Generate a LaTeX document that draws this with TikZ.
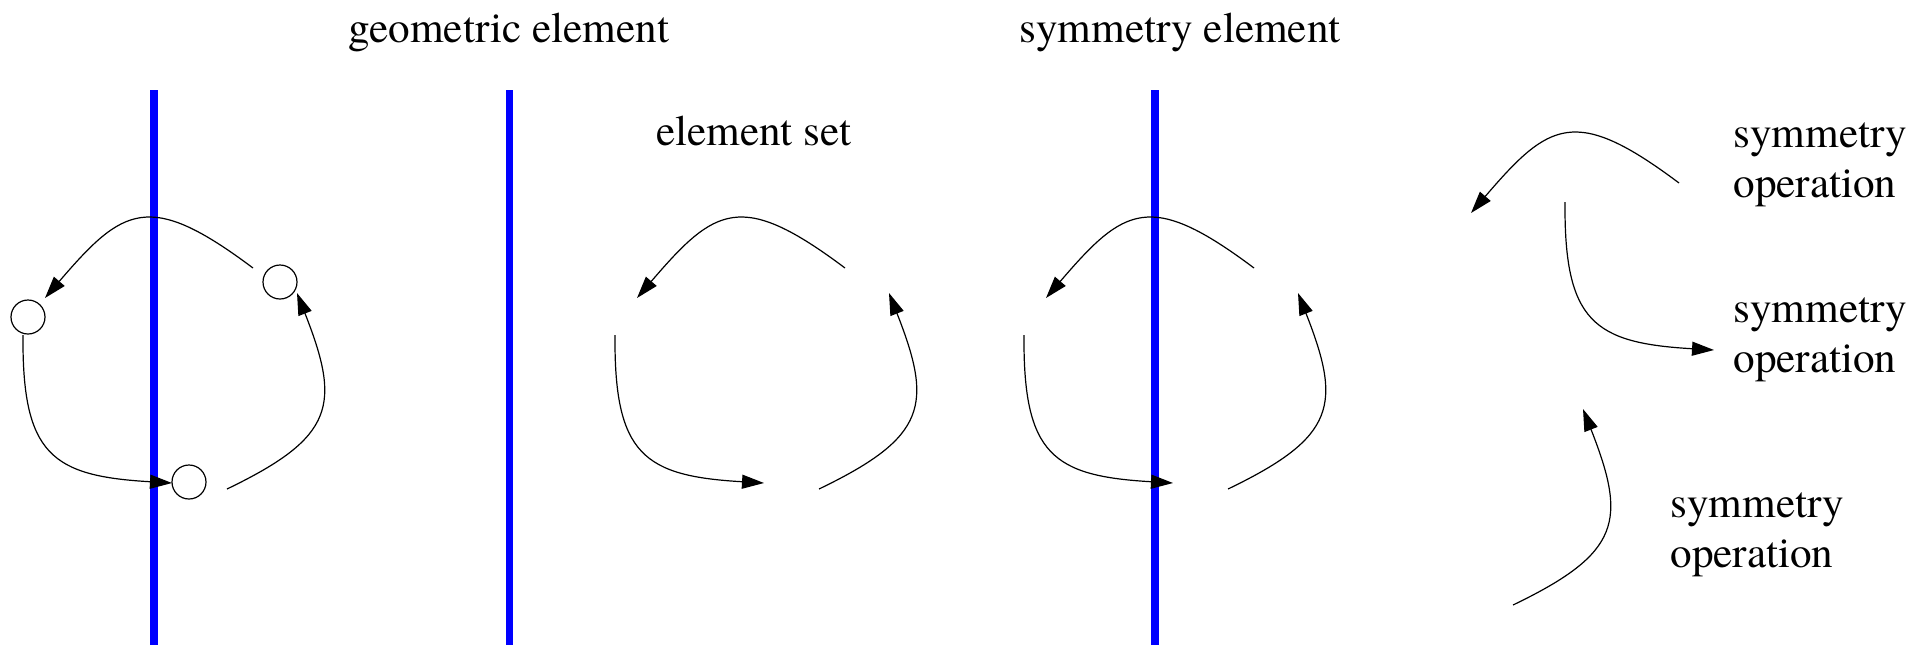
\documentclass[tikz,border=0pt]{standalone}
\usepackage{fontspec}
\setmainfont{texgyretermes}[Extension=.otf, UprightFont=*-regular]
\usepackage{xcolor}
\usetikzlibrary{arrows.meta}
\definecolor{axisblue}{RGB}{0,0,255}
\tikzset{
  axis/.style={draw=axisblue, line width=3.8pt},
  site/.style={circle, draw, line width=0.6pt, minimum size=17pt, inner sep=0pt},
  op/.style={-{Triangle[length=11pt, width=7pt]}, line width=0.6pt},
  lbl/.style={font=\fontsize{21.6}{25}\selectfont, inner sep=0pt},
}

\begin{document}
\begin{tikzpicture}[x=0.5pt, y=-0.5pt]
  \useasboundingbox (0,0) rectangle (1925,645);
  % labels
  \node[lbl, anchor=base] (geo) at (509,42) {geometric element};
  \node[lbl, anchor=base] (sym) at (1180,42) {symmetry element};
  \node[lbl, anchor=base] (set) at (754,145) {element set};
  \node[lbl, anchor=base west, align=left] (op1) at (1733,197) {symmetry\\operation};
  \node[lbl, anchor=base west, align=left] (op2) at (1733,372) {symmetry\\operation};
  \node[lbl, anchor=base west, align=left] (op3) at (1670,567) {symmetry\\operation};
  % axes
  \draw[axis] (154,90) -- (154,645);
  \draw[axis] (509.5,90) -- (509.5,645);
  \draw[axis] (1155,90) -- (1155,645);
  % sites
  \node[site] (a) at (28,317) {};
  \node[site] (b) at (280,282) {};
  \node[site] (c) at (189,482) {};
  % orbits
  \foreach \dx in {0,592,1001} {
    \begin{scope}[shift={(\dx,0)}]
      \coordinate (t1) at (253,268); \coordinate (t2) at (45,298);
      \coordinate (l1) at (23,335);  \coordinate (l2) at (172,483);
      \coordinate (r1) at (227,489); \coordinate (r2) at (297,293);
      \draw[op] (t1) .. controls +(-104,-78) and +(78,-91) .. (t2);
      \draw[op] (l1) .. controls +(-1,120) and +(-120,-7) .. (l2);
      \draw[op] (r1) .. controls +(108,-52) and +(44,112) .. (r2);
    \end{scope}
  }
  % operations
  \begin{scope}[shift={(1426,-85)}]
    \coordinate (t1) at (253,268); \coordinate (t2) at (45,298);
    \draw[op] (t1) .. controls +(-104,-78) and +(78,-91) .. (t2);
  \end{scope}
  \begin{scope}[shift={(1542,-133)}]
    \coordinate (l1) at (23,335); \coordinate (l2) at (172,483);
    \draw[op] (l1) .. controls +(-1,120) and +(-120,-7) .. (l2);
  \end{scope}
  \begin{scope}[shift={(1286,116)}]
    \coordinate (r1) at (227,489); \coordinate (r2) at (297,293);
    \draw[op] (r1) .. controls +(108,-52) and +(44,112) .. (r2);
  \end{scope}
\end{tikzpicture}
\end{document}
